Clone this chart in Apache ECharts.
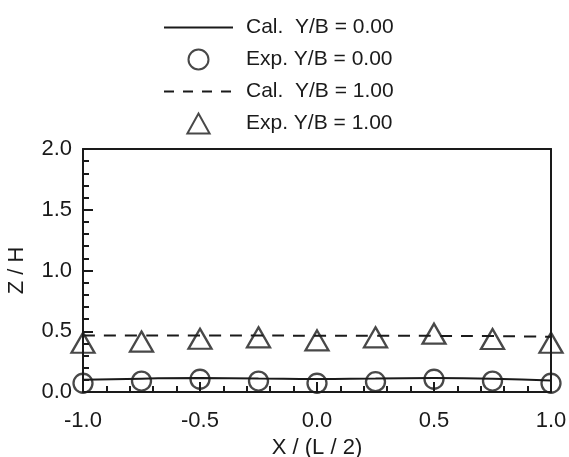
<!DOCTYPE html>
<html>
<head>
<meta charset="utf-8">
<script src="https://cdn.jsdelivr.net/npm/echarts@6/dist/echarts.min.js"></script>
<style>
  html, body { margin: 0; padding: 0; background: #fff; }
  #chart { width: 569px; height: 457px; }
</style>
</head>
<body>
<div id="chart"></div>
<script>
// Positions along the span, X / (L / 2)
const xPositions = [-1.0, -0.75, -0.5, -0.25, 0.0, 0.25, 0.5, 0.75, 1.0];

// Computed profiles
const calY0 = [0.100, 0.110, 0.115, 0.112, 0.108, 0.112, 0.115, 0.110, 0.095];
const calY1 = [0.465, 0.465, 0.465, 0.465, 0.463, 0.463, 0.462, 0.460, 0.455];

// Measured values
const expY0 = [0.072, 0.090, 0.105, 0.090, 0.072, 0.085, 0.105, 0.090, 0.072];
const expY1 = [0.405, 0.415, 0.438, 0.450, 0.425, 0.450, 0.480, 0.436, 0.405];

const seriesNames = ['Cal.  Y/B = 0.00', 'Exp. Y/B = 0.00', 'Cal.  Y/B = 1.00', 'Exp. Y/B = 1.00'];

const ink = '#1a1a1a';
const font = 'Liberation Sans, Arial, sans-serif';
const clear = 'rgba(0,0,0,0)';

const pairs = (ys) => xPositions.map((x, i) => [x, ys[i]]);

// legend entries for line series: plain line, no marker in the middle
const lineOnly = { color: clear, borderColor: clear, borderWidth: 0 };

const chart = echarts.init(document.getElementById('chart'), null, { renderer: 'canvas' });

chart.setOption({
  backgroundColor: '#fff',
  animation: false,
  textStyle: { fontFamily: font, color: ink },
  legend: {
    orient: 'vertical',
    left: 163,
    top: 17,
    padding: 0,
    itemWidth: 69,
    itemHeight: 20,
    itemGap: 10.5,
    textStyle: { fontSize: 21, lineHeight: 20, color: ink, fontFamily: font, padding: [0, 0, 0, 8] },
    data: [
      { name: seriesNames[0], itemStyle: lineOnly },
      { name: seriesNames[1] },
      { name: seriesNames[2], itemStyle: lineOnly, lineStyle: { type: [10, 9] } },
      { name: seriesNames[3], icon: 'path://M0,18L10,0L20,18Z' }
    ]
  },
  grid: { left: 83, right: 18, top: 149, bottom: 65, containLabel: false, outerBoundsMode: 'none' },
  xAxis: [{
    type: 'value', min: -1, max: 1, interval: 0.5,
    name: 'X / (L / 2)', nameLocation: 'middle', nameGap: 44,
    nameTextStyle: { fontSize: 22, color: ink },
    axisLine: { show: true, onZero: false, lineStyle: { color: ink, width: 2 } },
    axisTick: { show: true, inside: true, length: 10, lineStyle: { color: ink, width: 2 } },
    minorTick: { show: true, splitNumber: 5, length: 6, lineStyle: { color: ink, width: 2 } },
    splitLine: { show: false },
    axisLabel: { fontSize: 22, color: ink, margin: 18, formatter: v => v.toFixed(1) }
  }, {
    type: 'value', min: -1, max: 1, position: 'top',
    axisLine: { show: true, onZero: false, lineStyle: { color: ink, width: 2 } },
    axisTick: { show: false }, axisLabel: { show: false }, splitLine: { show: false }
  }],
  yAxis: [{
    type: 'value', min: 0, max: 2, interval: 0.5,
    name: 'Z / H', nameLocation: 'middle', nameGap: 55,
    nameTextStyle: { fontSize: 22, color: ink },
    axisLine: { show: true, onZero: false, lineStyle: { color: ink, width: 2 } },
    axisTick: { show: true, inside: true, length: 10, lineStyle: { color: ink, width: 2 } },
    minorTick: { show: true, splitNumber: 5, length: 6, lineStyle: { color: ink, width: 2 } },
    splitLine: { show: false },
    axisLabel: { fontSize: 22, color: ink, margin: 11, formatter: v => v.toFixed(1) }
  }, {
    type: 'value', min: 0, max: 2, position: 'right',
    axisLine: { show: true, onZero: false, lineStyle: { color: ink, width: 2 } },
    axisTick: { show: false }, axisLabel: { show: false }, splitLine: { show: false }
  }],
  series: [{
    name: seriesNames[0], type: 'line', smooth: true, symbol: 'none',
    data: pairs(calY0), color: ink,
    lineStyle: { color: ink, width: 2 }, z: 2
  }, {
    name: seriesNames[1], type: 'scatter', symbol: 'circle', symbolSize: 19,
    data: pairs(expY0), color: ink,
    itemStyle: { color: clear, borderColor: ink, borderWidth: 2.3 }, z: 3
  }, {
    name: seriesNames[2], type: 'line', smooth: true, symbol: 'none',
    data: pairs(calY1), color: ink,
    lineStyle: { color: ink, width: 2, type: [12, 9] }, z: 2
  }, {
    name: seriesNames[3], type: 'scatter', symbol: 'triangle', symbolSize: [23, 20],
    data: pairs(expY1), color: ink,
    itemStyle: { color: clear, borderColor: ink, borderWidth: 2.3 }, z: 3
  }]
});
</script>
</body>
</html>
